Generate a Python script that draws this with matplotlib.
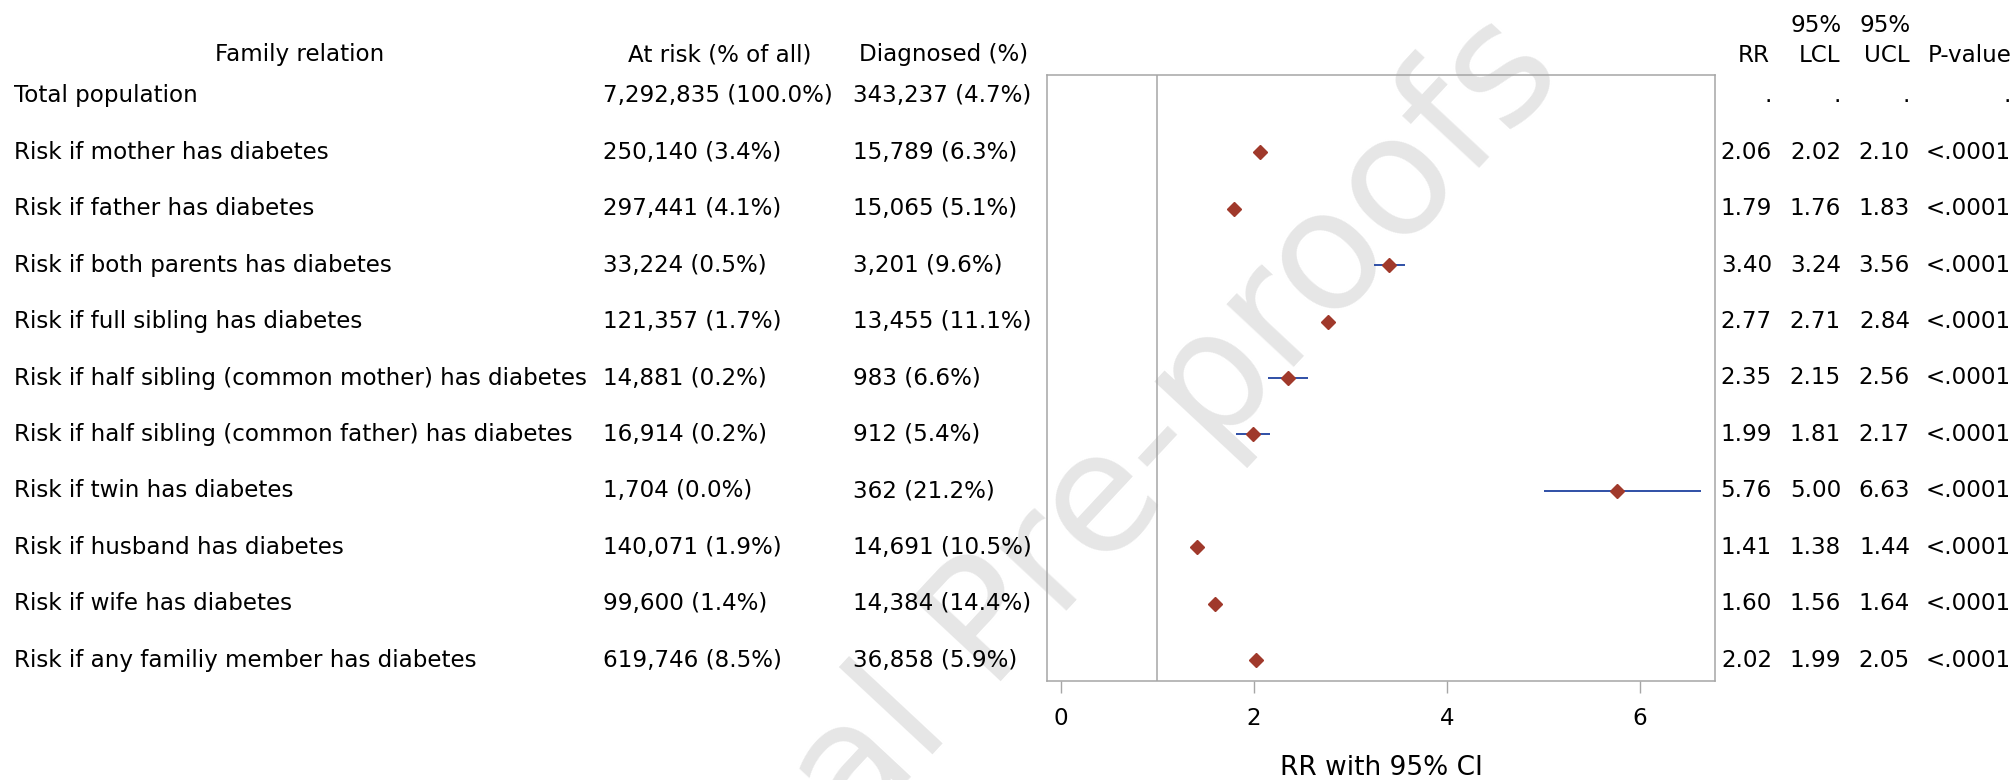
import numpy as np
import matplotlib
matplotlib.use("AGG")
import matplotlib.pyplot as plt
from matplotlib import transforms

# data
relations = [
    "Total population",
    "Risk if mother has diabetes",
    "Risk if father has diabetes",
    "Risk if both parents has diabetes",
    "Risk if full sibling has diabetes",
    "Risk if half sibling (common mother) has diabetes",
    "Risk if half sibling (common father) has diabetes",
    "Risk if twin has diabetes",
    "Risk if husband has diabetes",
    "Risk if wife has diabetes",
    "Risk if any familiy member has diabetes",
]
at_risk = ["7,292,835 (100.0%)", "250,140 (3.4%)", "297,441 (4.1%)", "33,224 (0.5%)",
           "121,357 (1.7%)", "14,881 (0.2%)", "16,914 (0.2%)", "1,704 (0.0%)",
           "140,071 (1.9%)", "99,600 (1.4%)", "619,746 (8.5%)"]
diagnosed = ["343,237 (4.7%)", "15,789 (6.3%)", "15,065 (5.1%)", "3,201 (9.6%)",
             "13,455 (11.1%)", "983 (6.6%)", "912 (5.4%)", "362 (21.2%)",
             "14,691 (10.5%)", "14,384 (14.4%)", "36,858 (5.9%)"]
rr = [np.nan, 2.06, 1.79, 3.40, 2.77, 2.35, 1.99, 5.76, 1.41, 1.60, 2.02]
lcl = [np.nan, 2.02, 1.76, 3.24, 2.71, 2.15, 1.81, 5.00, 1.38, 1.56, 1.99]
ucl = [np.nan, 2.10, 1.83, 3.56, 2.84, 2.56, 2.17, 6.63, 1.44, 1.64, 2.05]
pvalue = ["."] + ["<.0001"] * 10
xticks = [0, 2, 4, 6]

W, H = 2015, 780
FS = 16.6
GRAY = "#a6a6a6"

fig = plt.figure(figsize=(W / 100, H / 100), dpi=100)
ax = fig.add_axes([1047 / W, 1 - 681 / H, (1715 - 1047) / W, (681 - 75) / H])
ax.patch.set_alpha(0)

y = np.arange(len(relations))
ax.axvline(1, color=GRAY, lw=1.1, zorder=1)
ax.hlines(y, lcl, ucl, color="#2f4fa6", lw=1.4, zorder=2)
ax.plot(rr, y, "D", color="#a0392b", ms=7.2, mec="#a0392b", zorder=3)

ax.set_xlim(-0.145, 6.777)
ax.set_ylim(10.363, -0.363)
ax.set_yticks([])
ax.set_xticks(xticks)
ax.tick_params(axis="x", length=8.6, width=1.0, color=GRAY, pad=10, labelsize=FS)
for s in ax.spines.values():
    s.set_color(GRAY)
    s.set_linewidth(1.1)
ax.set_xlabel("RR with 95% CI", fontsize=19, va="center")
ax.xaxis.set_label_coords(0.5, -(768 - 681) / (681 - 75))

# table columns, rows follow the axes' y scale
tr = transforms.blended_transform_factory(fig.transFigure, ax.transData)
for i in y:
    fig.text(14 / W, i, relations[i], transform=tr, fontsize=FS, va="center", ha="left")
    fig.text(603 / W, i, at_risk[i], transform=tr, fontsize=FS, va="center", ha="left")
    fig.text(853 / W, i, diagnosed[i], transform=tr, fontsize=FS, va="center", ha="left")
    vals = ["." if np.isnan(v) else f"{v:.2f}" for v in (rr[i], lcl[i], ucl[i])]
    for xp, v in zip([1772, 1841, 1910], vals):
        fig.text(xp / W, i, v, transform=tr, fontsize=FS, va="center", ha="right")
    fig.text(2011 / W, i, pvalue[i], transform=tr, fontsize=FS, va="center", ha="right")

hy = 1 - 55 / H
fig.text(300 / W, hy, "Family relation", fontsize=FS, va="center", ha="center")
fig.text(720 / W, hy, "At risk (% of all)", fontsize=FS, va="center", ha="center")
fig.text(944 / W, hy, "Diagnosed (%)", fontsize=FS, va="center", ha="center")
for xp, t in zip([1770, 1840, 1910, 2012], ["RR", "LCL", "UCL", "P-value"]):
    fig.text(xp / W, hy, t, fontsize=FS, va="center", ha="right")
for xp in [1842, 1911]:
    fig.text(xp / W, 1 - 25 / H, "95%", fontsize=FS, va="center", ha="right")

# watermark
fig.text(1570 / W, 1 - 80 / H, "Journal Pre-proofs", fontsize=120, color="#e6e6e6",
         rotation=47, rotation_mode="anchor", ha="right", va="baseline", zorder=-5)

fig.savefig("out.png", dpi=100)
